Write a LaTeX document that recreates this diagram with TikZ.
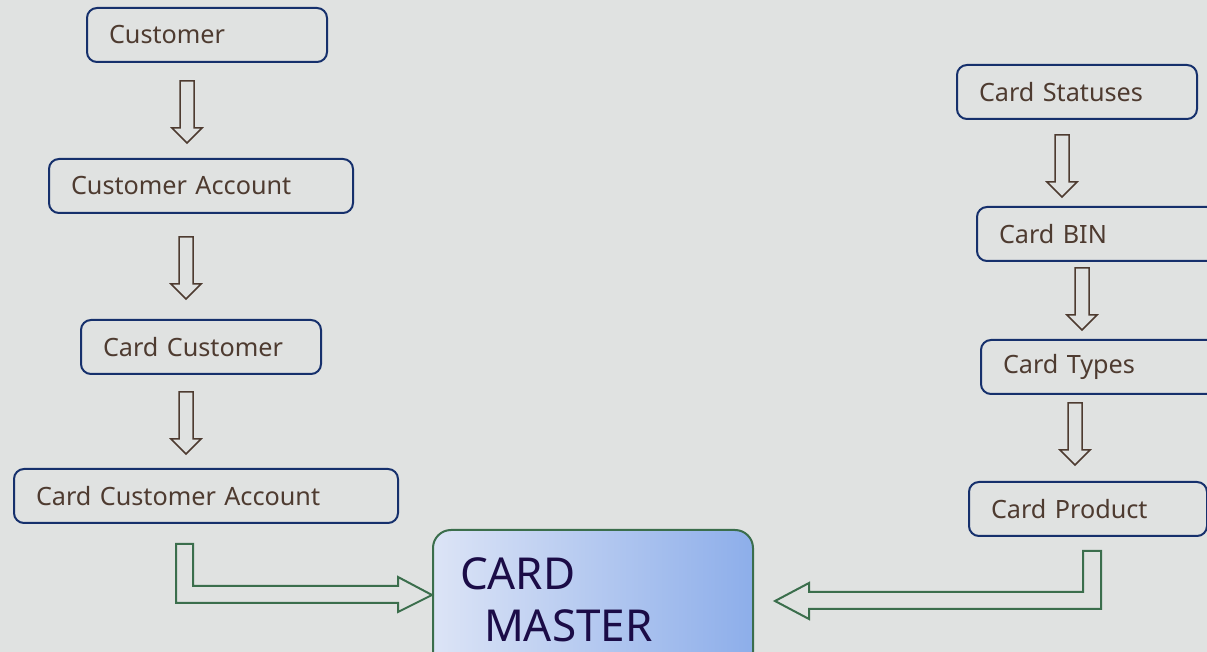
\documentclass[tikz,border=0pt]{standalone}
\usepackage{fontspec}
\setmainfont{Noto Sans}
\definecolor{bgcol}{HTML}{E0E2E1}
\definecolor{boxline}{HTML}{16306C}
\definecolor{boxtext}{HTML}{4E3B30}
\definecolor{flowgreen}{HTML}{3B6E4C}
\definecolor{mastertext}{HTML}{1B0C47}
\definecolor{masterlight}{HTML}{DCE4F6}
\definecolor{masterdark}{HTML}{8DAEEA}

\begin{document}
\begin{tikzpicture}[x=.5pt,y=-.5pt,
  tbl/.style={draw=boxline,line width=1pt,rounded corners=5pt,anchor=north west,
    minimum height=27pt,inner xsep=11pt,align=left,text width=#1,text=boxtext,
    font=\fontsize{12.6}{15}\selectfont},
  downarr/.pic={\draw[boxtext,line width=.75pt] (-7,0)--(7,0)--(7,47)--(15,47)--(0,62)--(-15,47)--(-7,47)--cycle;},
  bentarr/.style={draw=flowgreen,line width=1pt}]
\fill[bgcol] (0,0) rectangle (1207,652);
\useasboundingbox (0,0) rectangle (1207,652);
% customer side
\node[tbl=98pt] (cust) at (86,7) {Customer};
\node[tbl=130pt] (custacc) at (48,158) {Customer Account};
\node[tbl=98pt] (cardcust) at (80,319) {Card Customer};
\node[tbl=170pt] (cardcustacc) at (13,468) {Card Customer Account};
\pic at (187,81) {downarr};
\pic at (186,237) {downarr};
\pic at (186,392) {downarr};
% card side
\node[tbl=98pt] (status) at (956,64) {Card Statuses};
\node[tbl=98pt] (bin) at (976,206) {Card BIN};
\node[tbl=98pt] (types) at (980,339) {Card Types};
\node[tbl=97pt] (product) at (968,481) {Card Product};
\pic at (1062,135) {downarr};
\pic at (1082,268) {downarr};
\pic at (1075,403) {downarr};
% master
\node[draw=flowgreen,line width=1pt,rounded corners=9pt,anchor=north west,
  left color=masterlight,right color=masterdark,minimum height=70pt,
  inner xsep=13.5pt,text width=133pt,align=left,text=mastertext,
  font=\fontsize{22}{26}\selectfont] (master) at (432,529) {CARD\\\hspace*{12pt}MASTER};
\draw[bentarr] (176,544)--(193,544)--(193,586)--(398,586)--(398,577)--(432,595)
  --(398,612)--(398,603)--(176,603)--cycle;
\draw[bentarr] (1101,551)--(1083,551)--(1083,592)--(809,592)--(809,583)--(775,601)
  --(809,619)--(809,609)--(1101,609)--cycle;
\end{tikzpicture}
\end{document}
